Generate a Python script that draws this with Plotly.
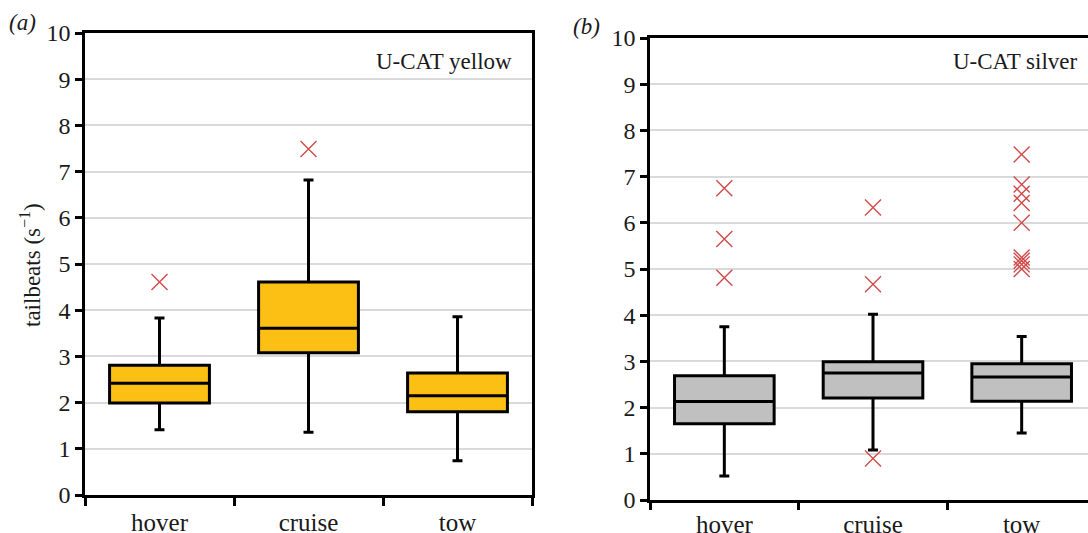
import plotly.graph_objects as go

categories = ["hover", "cruise", "tow"]

# Panel (a) U-CAT yellow
a_low = [1.41, 1.36, 0.74]
a_q1 = [1.99, 3.08, 1.80]
a_med = [2.42, 3.61, 2.15]
a_q3 = [2.81, 4.61, 2.64]
a_high = [3.83, 6.82, 3.86]
a_out_x = ["hover", "cruise"]
a_out_y = [4.61, 7.49]

# Panel (b) U-CAT silver
b_low = [0.52, 1.08, 1.45]
b_q1 = [1.65, 2.21, 2.14]
b_med = [2.13, 2.75, 2.66]
b_q3 = [2.69, 2.99, 2.95]
b_high = [3.75, 4.02, 3.54]
b_out_x = ["hover", "hover", "hover", "cruise", "cruise", "cruise",
           "tow", "tow", "tow", "tow", "tow", "tow", "tow", "tow", "tow"]
b_out_y = [6.75, 5.65, 4.81, 6.33, 4.67, 0.90,
           7.48, 6.83, 6.63, 6.43, 6.00, 5.25, 5.18, 5.10, 5.00]

yticks = list(range(0, 11))
font_serif = "Liberation Serif, Times New Roman, serif"
txt_col = "#1a1a1a"
grid_col = "#dadada"
red = "#d04a4a"

fig = go.Figure()

fig.add_trace(go.Box(
    x=categories, q1=a_q1, median=a_med, q3=a_q3,
    lowerfence=a_low, upperfence=a_high,
    fillcolor="#fcbf14", line=dict(color="black", width=3),
    width=0.67, whiskerwidth=0.1, boxpoints=False,
    xaxis="x", yaxis="y", showlegend=False))
fig.add_trace(go.Scatter(
    x=a_out_x, y=a_out_y, mode="markers",
    marker=dict(symbol="x-thin", size=16, line=dict(color=red, width=1.4)),
    xaxis="x", yaxis="y", showlegend=False))

fig.add_trace(go.Box(
    x=categories, q1=b_q1, median=b_med, q3=b_q3,
    lowerfence=b_low, upperfence=b_high,
    fillcolor="#c0c0c0", line=dict(color="black", width=3),
    width=0.67, whiskerwidth=0.1, boxpoints=False,
    xaxis="x2", yaxis="y2", showlegend=False))
fig.add_trace(go.Scatter(
    x=b_out_x, y=b_out_y, mode="markers",
    marker=dict(symbol="x-thin", size=16, line=dict(color=red, width=1.4)),
    xaxis="x2", yaxis="y2", showlegend=False))

W, H = 1088, 533

def px_x(p):
    return p / W

def px_y(p):
    return 1 - p / H

xcommon = dict(type="category", categoryorder="array", categoryarray=categories,
               tickson="boundaries", ticks="outside", tickwidth=2.5,
               tickcolor="black", showline=True, linecolor="black", linewidth=2.5,
               mirror=True, showgrid=False, zeroline=False, automargin=False,
               tickfont=dict(family=font_serif, size=25, color=txt_col))
ycommon = dict(range=[0, 10], tickvals=yticks, ticks="outside", ticklen=7,
               tickwidth=2.5, tickcolor="black", showline=True, linecolor="black",
               linewidth=2.5, showgrid=True, gridcolor=grid_col, gridwidth=2,
               zeroline=False, automargin=False,
               tickfont=dict(family=font_serif, size=24, color=txt_col))

fig.update_layout(
    width=W, height=H,
    margin=dict(l=0, r=0, t=0, b=0, autoexpand=False),
    paper_bgcolor="white", plot_bgcolor="white",
    xaxis=dict(domain=[px_x(85), px_x(532)], anchor="y", range=[-0.5, 2.5],
               ticklen=8, ticklabelstandoff=3, **xcommon),
    yaxis=dict(domain=[px_y(495), px_y(33)], anchor="x", mirror=True, **ycommon),
    xaxis2=dict(domain=[px_x(650), 1.0], anchor="y2", range=[-0.5, -0.5 + 3 * 438 / 446],
                ticklen=7, ticklabelstandoff=0, **xcommon),
    yaxis2=dict(domain=[px_y(500), px_y(38)], anchor="x2", mirror=False, **ycommon),
    annotations=[
        dict(text="<i>(a)</i>", x=px_x(7), y=px_y(22), xref="paper", yref="paper",
             xanchor="left", yanchor="middle", showarrow=False,
             font=dict(family=font_serif, size=23, color=txt_col)),
        dict(text="<i>(b)</i>", x=px_x(571), y=px_y(27), xref="paper", yref="paper",
             xanchor="left", yanchor="middle", showarrow=False,
             font=dict(family=font_serif, size=23, color=txt_col)),
        dict(text="U-CAT yellow", x=px_x(514), y=px_y(62), xref="paper", yref="paper",
             xanchor="right", yanchor="middle", showarrow=False,
             font=dict(family=font_serif, size=23, color=txt_col)),
        dict(text="U-CAT silver", x=px_x(1079), y=px_y(62), xref="paper", yref="paper",
             xanchor="right", yanchor="middle", showarrow=False,
             font=dict(family=font_serif, size=23, color=txt_col)),
        dict(text="tailbeats (s<sup>−1</sup>)", x=px_x(30), y=px_y(265),
             xref="paper", yref="paper", textangle=-90,
             xanchor="center", yanchor="middle", showarrow=False,
             font=dict(family=font_serif, size=23, color=txt_col)),
    ],
)

fig.write_html("out.html", config={"displayModeBar": False},
               post_script="document.body.style.margin='0';document.body.style.overflow='hidden';")
